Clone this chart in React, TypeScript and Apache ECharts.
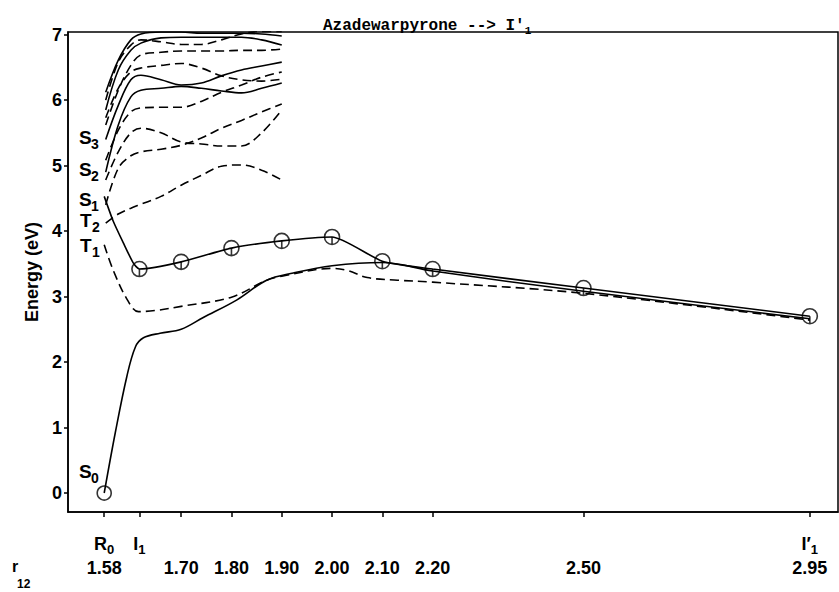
import React, { useEffect, useRef } from 'react';
import * as echarts from 'echarts';

// ---- axis ticks (plot positions on the r12 axis; R0 / I1 sit off the linear scale) ----
const xTickPos = [1.547, 1.617, 1.7, 1.8, 1.9, 2.0, 2.1, 2.2, 2.5, 2.95];
const xTickNum = ['1.58', '', '1.70', '1.80', '1.90', '2.00', '2.10', '2.20', '2.50', '2.95'];
const xTickSym = ['R', 'I', '', '', '', '', '', '', '', 'I′'];
const xTickSub = ['0', '1', '', '', '', '', '', '', '', '1'];
const yTicks = [0, 1, 2, 3, 4, 5, 6, 7];

// ---- ground state S0 (solid) ----
const s0X = [1.547, 1.569, 1.592, 1.609, 1.625, 1.658, 1.7, 1.744, 1.811, 1.87, 1.923, 2.0, 2.1, 2.2, 2.5, 2.95];
const s0E = [0.0, 0.92, 1.78, 2.23, 2.37, 2.44, 2.5, 2.68, 2.95, 3.25, 3.36, 3.47, 3.52, 3.39, 3.08, 2.66];

// ---- S1 path with circled points (solid) ----
const s1X = [1.547, 1.565, 1.585, 1.605, 1.617, 1.7, 1.8, 1.9, 2.0, 2.1, 2.2, 2.5, 2.95];
const s1E = [4.53, 4.15, 3.82, 3.51, 3.42, 3.53, 3.74, 3.85, 3.91, 3.54, 3.42, 3.13, 2.7];
const circledX = [1.617, 1.7, 1.8, 1.9, 2.0, 2.1, 2.2, 2.5, 2.95];
const circledE = [3.42, 3.53, 3.74, 3.85, 3.91, 3.54, 3.42, 3.13, 2.7];

// ---- T1 (dashed) ----
const t1X = [1.547, 1.565, 1.593, 1.615, 1.652, 1.7, 1.8, 1.87, 1.9, 2.0, 2.03, 2.07, 2.13, 2.2, 2.5, 2.95];
const t1E = [3.79, 3.4, 2.95, 2.77, 2.79, 2.85, 2.99, 3.25, 3.31, 3.43, 3.4, 3.29, 3.25, 3.22, 3.05, 2.64];

// ---- upper manifold, computed from R0 to 1.90 ----
const upX = [1.55, 1.575, 1.6, 1.62, 1.66, 1.7, 1.74, 1.78, 1.82, 1.86, 1.9];
const t2E = [4.12, 4.26, 4.35, 4.41, 4.53, 4.7, 4.85, 4.99, 5.01, 4.93, 4.78];
const dashD = [4.4, 4.96, 5.15, 5.21, 5.25, 5.31, 5.42, 5.57, 5.69, 5.82, 5.94];
const dashC = [4.78, 5.21, 5.5, 5.57, 5.5, 5.36, 5.33, 5.3, 5.3, 5.5, 5.85];
const dashB = [5.08, 5.54, 5.82, 5.88, 5.89, 5.89, 5.98, 6.12, 6.23, 6.35, 6.43];
const dashA = [5.73, 6.18, 6.43, 6.49, 6.53, 6.56, 6.49, 6.37, 6.31, 6.29, 6.32];
const dash677 = [5.62, 6.15, 6.53, 6.69, 6.73, 6.75, 6.75, 6.75, 6.76, 6.76, 6.78];
const dashTop = [6.0, 6.58, 6.84, 6.92, 6.89, 6.85, 6.85, 6.92, 7.01, 7.05, 7.05];
const solidS2 = [4.9, 5.62, 6.05, 6.15, 6.18, 6.21, 6.18, 6.14, 6.11, 6.18, 6.26];
const solidS3 = [5.4, 5.92, 6.31, 6.38, 6.31, 6.23, 6.26, 6.37, 6.46, 6.52, 6.58];
const solidHigh = [5.85, 6.46, 6.76, 6.87, 6.95, 6.96, 6.96, 6.96, 6.96, 6.92, 6.84];
const solidTop = [6.12, 6.61, 6.92, 7.01, 7.04, 7.04, 7.02, 7.02, 7.02, 7.01, 6.98];

// ---- state labels ----
const stateMain = ['S', 'S', 'S', 'T', 'T', 'S'];
const stateSub = ['3', '2', '1', '2', '1', '0'];
const statePos = [
  [79, 128], [79, 160], [79, 190], [80, 211], [80, 236], [79, 462],
];

const FONT = '"Liberation Sans", Arial, sans-serif';
const DASH = [9, 5];

function pairs(xs: number[], ys: number[]) {
  return xs.map((x, i) => [x, ys[i]]);
}

function lineSeries(xs: number[], ys: number[], dashed: boolean, smooth = 0.3) {
  return {
    type: 'line',
    data: pairs(xs, ys),
    smooth,
    symbol: 'none',
    silent: true,
    lineStyle: { color: '#000', width: 1.6, type: dashed ? DASH : 'solid' },
    z: 2,
  };
}

export default function App() {
  const ref = useRef<HTMLDivElement>(null);
  useEffect(() => {
    if (!ref.current) return;
    const chart = echarts.init(ref.current, null, { renderer: 'svg' });

    const graphic: any[] = [];
    stateMain.forEach((m, i) => {
      const [x, y] = statePos[i];
      graphic.push({
        type: 'text', left: x, top: y,
        style: { text: m, font: `bold 19px ${FONT}`, fill: '#000' },
      });
      graphic.push({
        type: 'text', left: x + 12, top: y + 9,
        style: { text: stateSub[i], font: `bold 14px ${FONT}`, fill: '#000' },
      });
    });
    graphic.push({ type: 'text', left: 12, top: 558, style: { text: 'r', font: `bold 16px ${FONT}`, fill: '#000' } });
    graphic.push({ type: 'text', left: 17, top: 578, style: { text: '12', font: `bold 12px ${FONT}`, fill: '#000' } });

    const upperDashed = [t2E, dashD, dashC, dashB, dashA, dash677, dashTop];
    const upperSolid = [solidS2, solidS3, solidHigh, solidTop];

    const circleSym = 'path://M8,0A8,8 0 1 1 8,16A8,8 0 1 1 8,0ZM8,8L8,16';

    chart.setOption({
      animation: false,
      backgroundColor: '#fff',
      title: {
        text: 'Azadewarpyrone --> I′{s|1}',
        left: 318,
        top: 11,
        textStyle: {
          fontFamily: '"Liberation Mono", monospace',
          fontWeight: 'bold',
          fontSize: 16,
          color: '#000',
          lineHeight: 20,
          rich: { s: { fontFamily: '"Liberation Mono", monospace', fontWeight: 'bold', fontSize: 11, verticalAlign: 'bottom', lineHeight: 14, color: '#000' } },
        },
      },
      grid: { left: 68, right: 1, top: 32, bottom: 80, show: true, borderColor: '#000', borderWidth: 1.5 },
      xAxis: {
        type: 'value',
        min: 1.475,
        max: 3.006,
        axisLine: { show: true, onZero: false, lineStyle: { color: '#000', width: 1.5 } },
        axisTick: { show: true, customValues: xTickPos, length: 5, lineStyle: { color: '#000', width: 1.5 } },
        splitLine: { show: false },
        axisLabel: {
          customValues: xTickPos,
          margin: 20,
          formatter: (v: number) => {
            const i = xTickPos.findIndex((p) => Math.abs(p - v) < 1e-6);
            if (i < 0) return '';
            const top = xTickSym[i] ? `{m|${xTickSym[i]}}{s|${xTickSub[i]}}` : '{m| }';
            const bot = xTickNum[i] ? `{n|${xTickNum[i]}}` : '{n| }';
            return `${top}\n${bot}`;
          },
          rich: {
            m: { fontFamily: FONT, fontWeight: 'bold', fontSize: 18, lineHeight: 24, color: '#000' },
            s: { fontFamily: FONT, fontWeight: 'bold', fontSize: 13, lineHeight: 14, verticalAlign: 'bottom', color: '#000' },
            n: { fontFamily: FONT, fontWeight: 'bold', fontSize: 18, lineHeight: 24, color: '#000' },
          },
        },
      },
      yAxis: {
        type: 'value',
        min: -0.29,
        max: 7.04,
        name: 'Energy (eV)',
        nameLocation: 'middle',
        nameGap: 26,
        nameTextStyle: { fontFamily: FONT, fontWeight: 'bold', fontSize: 18, color: '#000' },
        axisLine: { show: true, onZero: false, lineStyle: { color: '#000', width: 1.5 } },
        axisTick: { show: true, customValues: yTicks, length: 4, lineStyle: { color: '#000', width: 1.5 } },
        splitLine: { show: false },
        axisLabel: {
          customValues: yTicks,
          margin: 6,
          padding: [9, 0, 0, 0],
          fontFamily: FONT,
          fontWeight: 'bold',
          fontSize: 18,
          color: '#000',
        },
      },
      graphic,
      series: [
        lineSeries(s0X, s0E, false, 0.35),
        lineSeries(s1X, s1E, false, 0.2),
        lineSeries(t1X, t1E, true, 0.35),
        ...upperDashed.map((e) => lineSeries(upX, e, true, 0.35)),
        ...upperSolid.map((e) => lineSeries(upX, e, false, 0.35)),
        {
          type: 'scatter',
          data: pairs(circledX, circledE),
          symbol: circleSym,
          symbolSize: 15,
          symbolKeepAspect: true,
          silent: true,
          itemStyle: { color: 'rgba(0,0,0,0)', borderColor: '#000', borderWidth: 1.6 },
          z: 3,
        },
        {
          type: 'scatter',
          data: [[s0X[0], s0E[0]]],
          symbol: 'circle',
          symbolSize: 14,
          silent: true,
          itemStyle: { color: 'rgba(0,0,0,0)', borderColor: '#000', borderWidth: 1.6 },
          z: 3,
        },
      ],
    });
    return () => chart.dispose();
  }, []);
  return <div ref={ref} style={{ position: 'fixed', left: 0, top: 0, width: 839, height: 592, background: '#fff' }} />;
}
